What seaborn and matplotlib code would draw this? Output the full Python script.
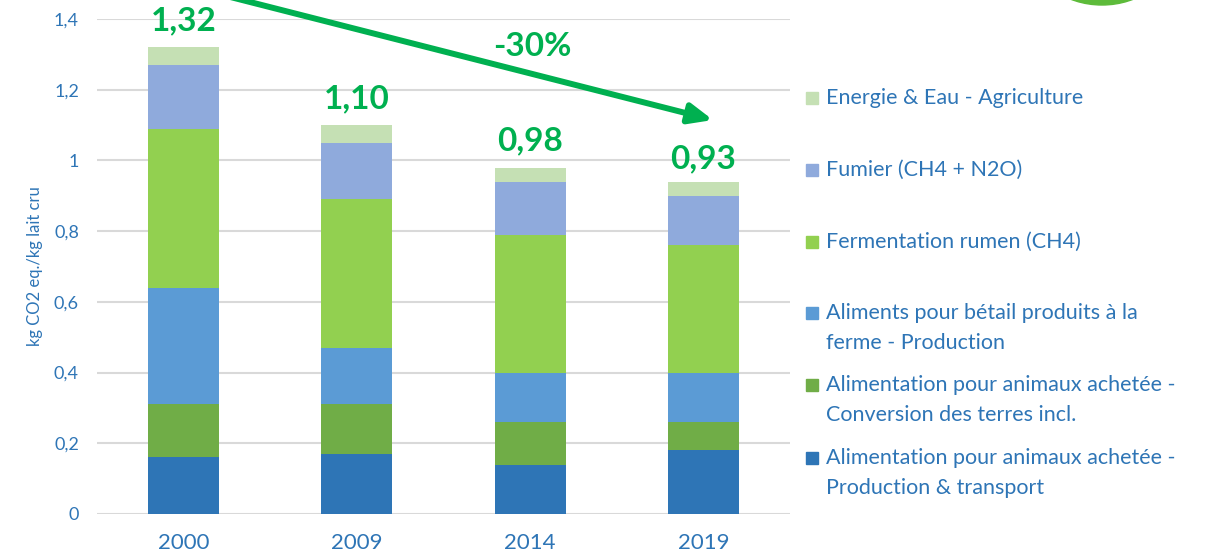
import numpy as np
import pandas as pd
import seaborn as sns
import matplotlib.pyplot as plt
from matplotlib.patches import Rectangle, Ellipse

years = ["2000", "2009", "2014", "2019"]
totals = [1.32, 1.10, 0.98, 0.93]
total_labels = ["1,32", "1,10", "0,98", "0,93"]

# segments bottom -> top
prod_transport = [0.16, 0.17, 0.14, 0.18]
conversion = [0.15, 0.14, 0.12, 0.08]
aliments_ferme = [0.33, 0.16, 0.14, 0.14]
fermentation = [0.45, 0.42, 0.39, 0.36]
fumier = [0.18, 0.16, 0.15, 0.14]
energie = [0.05, 0.05, 0.04, 0.04]

labels = [
    "Alimentation pour animaux achetée -\nProduction & transport",
    "Alimentation pour animaux achetée -\nConversion des terres incl.",
    "Aliments pour bétail produits à la\nferme - Production",
    "Fermentation rumen (CH4)",
    "Fumier (CH4 + N2O)",
    "Energie & Eau - Agriculture",
]
colors = ["#2E75B6", "#70AD47", "#5B9BD5", "#92D050", "#8FAADC", "#C5E0B4"]
series = [prod_transport, conversion, aliments_ferme, fermentation, fumier, energie]

sns.set_style("white")
plt.rcParams['font.family'] = ['Lato', 'DejaVu Sans']

blue = "#2E75B6"
green = "#00B050"

fig = plt.figure(figsize=(12.09, 5.6), dpi=100)
ax = fig.add_axes([97 / 1209, 46 / 560, 693 / 1209, 495 / 560])

cum = np.cumsum(np.array(series), axis=0)
# draw from top layer down so each lower stack covers the one above
for i in range(len(series) - 1, -1, -1):
    df = pd.DataFrame({"annee": years, "val": cum[i]})
    sns.barplot(data=df, x="annee", y="val", color=colors[i], width=0.41,
                saturation=1, linewidth=0, ax=ax, zorder=3)

ax.set_ylim(0, 1.4)
ax.set_xlim(-0.5, 3.5)
ax.set_yticks(np.arange(0, 1.41, 0.2))
ax.set_yticklabels(["0", "0,2", "0,4", "0,6", "0,8", "1", "1,2", "1,4"])
ax.tick_params(axis="y", colors=blue, labelsize=13, length=0, pad=13)
ax.tick_params(axis="x", colors=blue, labelsize=16, length=0, pad=14)
ax.yaxis.grid(True, color="#D9D9D9", linewidth=1.5, zorder=0)
ax.set_axisbelow(True)
for s in ax.spines.values():
    s.set_visible(False)
ax.set_xlabel("")
ax.set_ylabel("kg CO2 eq./kg lait cru", color=blue, fontsize=12, labelpad=8)

for i, t in enumerate(totals):
    ax.annotate(total_labels[i], (i, t), xytext=(0, 19), textcoords="offset points",
                ha="center", va="center", color=green, fontsize=24,
                fontweight="bold", annotation_clip=False)

# trend arrow
ax.annotate("", xy=(713, 440), xycoords="figure pixels",
            xytext=(195, 572), textcoords="figure pixels",
            arrowprops=dict(arrowstyle="-|>,head_length=1.4,head_width=0.6",
                            color=green, lw=4.3, shrinkA=0, shrinkB=0),
            annotation_clip=False)
fig.text(532 / 1209, 1 - 47 / 560, "-30%", color=green, fontsize=24,
         fontweight="bold", ha="center", va="center")

# legend drawn by hand, markers aligned to the first line
first_lines = [458, 385, 313, 242, 170, 98]
for i, lab in enumerate(labels):
    y = first_lines[i]
    fig.add_artist(Rectangle((806 / 1209, 1 - (y + 6) / 560), 12 / 1209, 12 / 560,
                             transform=fig.transFigure, color=colors[i]))
    for k, line in enumerate(lab.split("\n")):
        fig.text(826 / 1209, 1 - (y + 30 * k) / 560, line, color=blue,
                 fontsize=15.5, ha="left", va="center")

# bits of the green logo at the top right
fig.add_artist(Ellipse((1102 / 1209, 1 + 50 / 560), 140 / 1209, 110 / 560,
                       transform=fig.transFigure, color="#5DBB3A"))

fig.savefig("out.png", dpi=100)
